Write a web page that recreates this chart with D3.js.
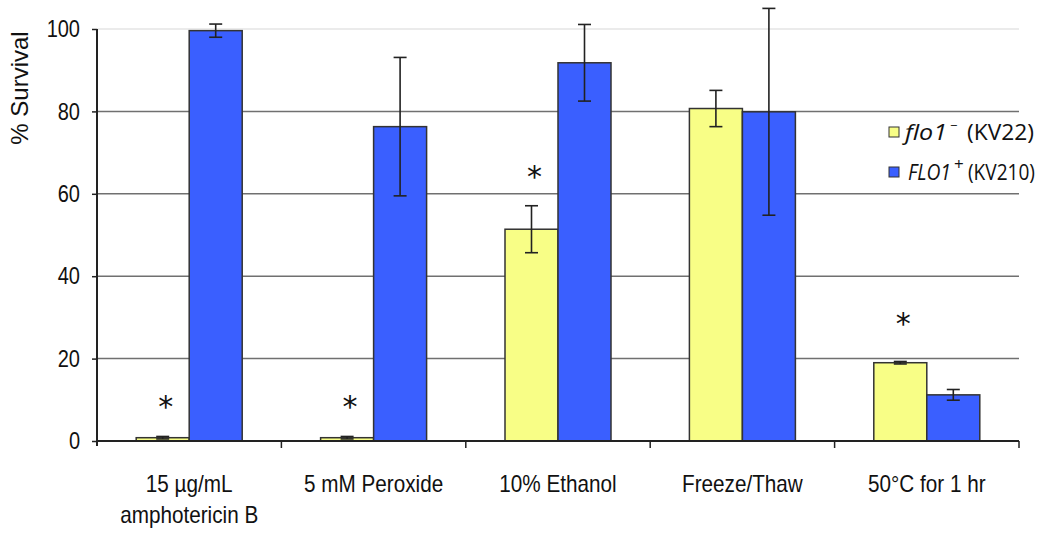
<!DOCTYPE html>
<html>
<head>
<meta charset="utf-8">
<script src="https://cdn.jsdelivr.net/npm/d3@7"></script>
<style>
  html, body { margin: 0; padding: 0; background: #fff; }
  svg { display: block; }
</style>
</head>
<body>
<svg id="chart" width="1050" height="537"></svg>
<script>
// ---- data ----
const categories = [["15 µg/mL", "amphotericin B"], ["5 mM Peroxide"], ["10% Ethanol"], ["Freeze/Thaw"], ["50°C for 1 hr"]];
const seriesNames = ["flo1", "FLO1"];
const seriesSup = ["\u2212", "+"];
const seriesStrain = ["(KV22)", "(KV210)"];
const flo1Values = [0.8, 0.8, 51.4, 80.7, 19.0];
const flo1Errors = [0.3, 0.3, 5.7, 4.4, 0.3];
const FLO1Values = [99.6, 76.3, 91.8, 79.9, 11.2];
const FLO1Errors = [1.6, 16.8, 9.3, 25.1, 1.3];
const significant = [true, true, true, false, true];
const yTicks = [0, 20, 40, 60, 80, 100];

// ---- layout ----
const svg = d3.select("#chart");
const mLeft = 97, mRight = 1019, mTop = 29, mBottom = 441;
const colors = ["#f8fe86", "#3a5fff"];
const FONT = "Liberation Sans, Arial, sans-serif";

const x = d3.scaleBand().domain(d3.range(categories.length)).range([mLeft, mRight]).paddingInner(0).paddingOuter(0);
const inner = d3.scaleBand().domain([0, 1]).range([0, 106]);
const groupOffset = (x.bandwidth() - 106) / 2;
const y = d3.scaleLinear().domain([0, 100]).range([mBottom, mTop]);

// gridlines
svg.append("g").selectAll("line").data(yTicks.filter(d => d > 0)).join("line")
  .attr("x1", mLeft).attr("x2", mRight)
  .attr("y1", d => y(d)).attr("y2", d => y(d))
  .attr("stroke", d => d === 100 ? "#e4e4e4" : "#707070")
  .attr("stroke-width", 1.5);

// y axis (ticks via d3 axis, labels condensed)
const yAxis = d3.axisLeft(y).tickValues(yTicks).tickSize(5).tickFormat("");
const gy = svg.append("g").attr("transform", `translate(${mLeft},0)`).call(yAxis);
gy.select(".domain").remove();
gy.selectAll(".tick line").attr("stroke", "#222").attr("stroke-width", 1.5);
svg.append("g").selectAll("text").data(yTicks).join("text")
  .attr("transform", d => `translate(80,${y(d)}) scale(0.87,1)`)
  .attr("dy", "0.36em").attr("text-anchor", "end")
  .attr("font-family", FONT).attr("font-size", 23).attr("fill", "#111")
  .text(d3.format("d"));
svg.append("line").attr("x1", mLeft).attr("x2", mLeft).attr("y1", mTop).attr("y2", mBottom + 5)
  .attr("stroke", "#222").attr("stroke-width", 2);

// y axis title
svg.append("text").attr("transform", `translate(28,88) rotate(-90)`)
  .attr("text-anchor", "middle").attr("font-family", FONT)
  .attr("font-size", 24).attr("fill", "#111").text("% Survival");

// bars
const series = [
  { values: flo1Values, errors: flo1Errors },
  { values: FLO1Values, errors: FLO1Errors }
];
const barData = [];
series.forEach((s, si) => s.values.forEach((v, ci) => barData.push({ si, ci, v, e: s.errors[ci] })));
const bx = d => x(d.ci) + groupOffset + inner(d.si);

svg.append("g").selectAll("rect").data(barData).join("rect")
  .attr("x", bx).attr("width", inner.bandwidth())
  .attr("y", d => y(d.v)).attr("height", d => y(0) - y(d.v))
  .attr("fill", d => colors[d.si]).attr("stroke", "#333").attr("stroke-width", 1.5);

// error bars
const eg = svg.append("g").attr("stroke", "#222").attr("stroke-width", 1.6);
barData.forEach(d => {
  const cx = bx(d) + inner.bandwidth() / 2;
  eg.append("line").attr("x1", cx).attr("x2", cx).attr("y1", y(d.v + d.e)).attr("y2", y(d.v - d.e));
  eg.append("line").attr("x1", cx - 6.5).attr("x2", cx + 6.5).attr("y1", y(d.v + d.e)).attr("y2", y(d.v + d.e));
  eg.append("line").attr("x1", cx - 6.5).attr("x2", cx + 6.5).attr("y1", y(d.v - d.e)).attr("y2", y(d.v - d.e));
});

// x axis
svg.append("line").attr("x1", mLeft).attr("x2", mRight).attr("y1", mBottom).attr("y2", mBottom)
  .attr("stroke", "#222").attr("stroke-width", 2);
svg.append("g").selectAll("line").data(d3.range(categories.length)).join("line")
  .attr("x1", d => x(d) + x.bandwidth()).attr("x2", d => x(d) + x.bandwidth())
  .attr("y1", mBottom).attr("y2", mBottom + 7)
  .attr("stroke", "#222").attr("stroke-width", 1.5);

// x labels (condensed)
const xl = svg.append("g").attr("font-family", FONT).attr("font-size", 23).attr("fill", "#111").attr("text-anchor", "middle");
categories.forEach((lines, i) => {
  lines.forEach((ln, j) => {
    xl.append("text")
      .attr("transform", `translate(${x(i) + x.bandwidth() / 2},${492 + j * 31}) scale(0.9,1)`)
      .text(ln);
  });
});

// significance asterisks
svg.append("g").selectAll("text").data(significant.map((s, i) => ({ s, i })).filter(d => d.s)).join("text")
  .attr("x", d => x(d.i) + groupOffset + inner.bandwidth() / 2 + 3)
  .attr("y", d => y(flo1Values[d.i] + flo1Errors[d.i]) - (d.i === 4 ? 27 : 19))
  .attr("text-anchor", "middle").attr("font-family", "DejaVu Sans, sans-serif").attr("font-size", 30)
  .attr("fill", "#111").text("*");

// legend
const lg = svg.append("g").attr("font-family", "Open Sans, sans-serif").attr("font-size", 21).attr("fill", "#111");
const legendY = [132, 172];
const nameX = [905, 908], nameW = [42, 43], supX = [950, 954], strainX = [967, 968];
seriesNames.forEach((name, i) => {
  lg.append("rect").attr("x", 889).attr("y", legendY[i] - 5).attr("width", 10).attr("height", 10)
    .attr("fill", colors[i]).attr("stroke", "#333").attr("stroke-width", 1);
  const base = legendY[i] + 8;
  lg.append("text").attr("x", nameX[i]).attr("y", base).attr("font-style", "italic")
    .attr("textLength", nameW[i]).attr("lengthAdjust", "spacingAndGlyphs").text(name);
  lg.append("text").attr("x", supX[i]).attr("y", base - 10).attr("font-size", i === 0 ? 13 : 17).text(seriesSup[i]);
  lg.append("text").attr("x", strainX[i]).attr("y", base)
    .attr("textLength", 67).attr("lengthAdjust", "spacingAndGlyphs").text(seriesStrain[i]);
});
</script>
</body>
</html>
